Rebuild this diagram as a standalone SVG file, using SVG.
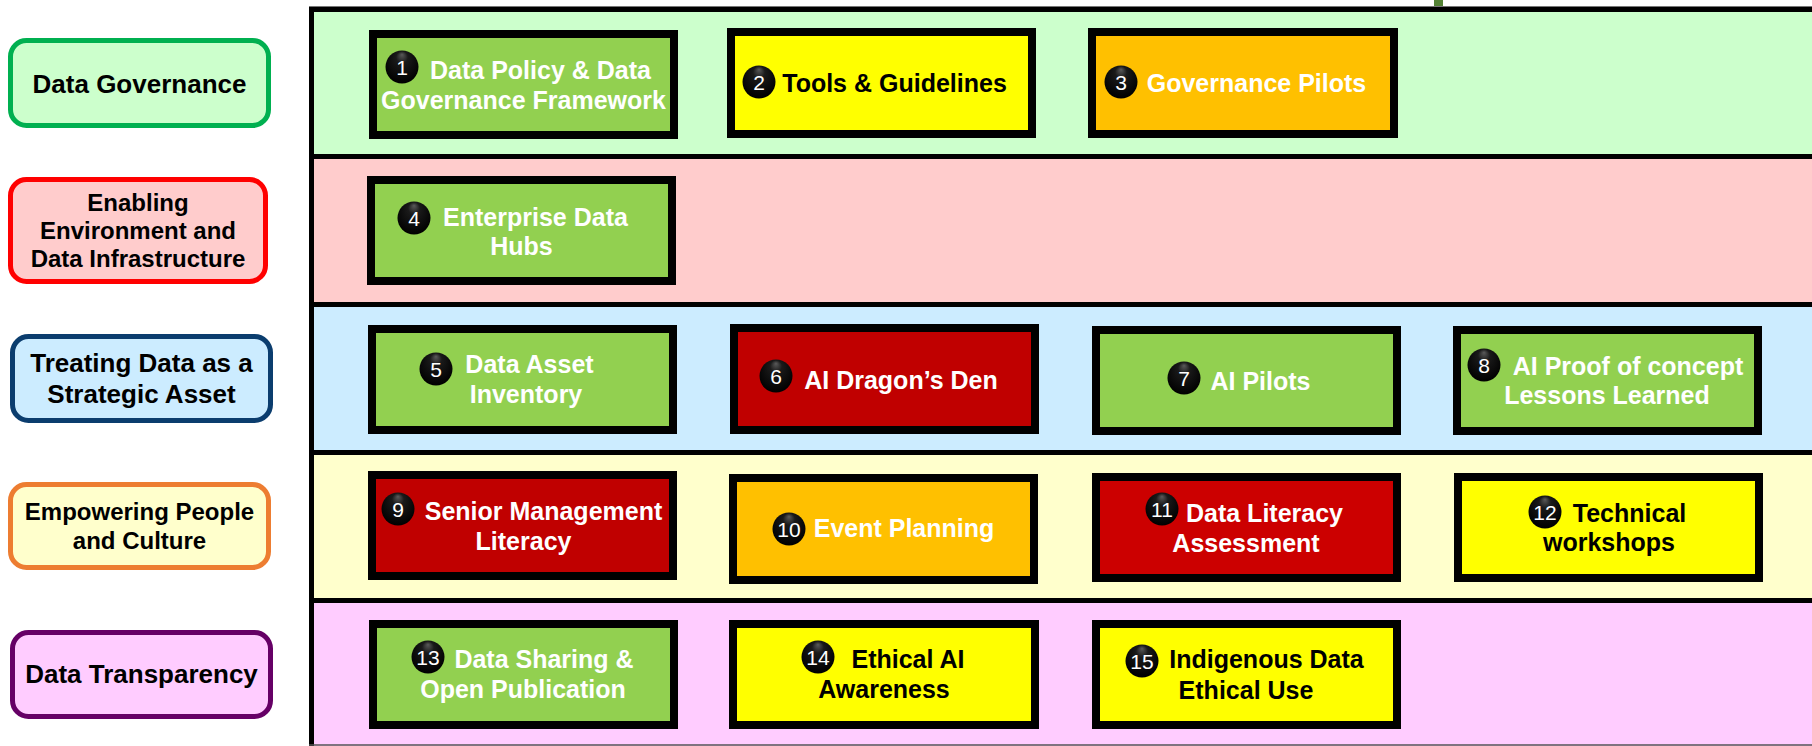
<svg xmlns="http://www.w3.org/2000/svg" width="1812" height="746" viewBox="0 0 1812 746">
<defs>
<radialGradient id="ball" cx="50%" cy="40%" r="60%" fx="50%" fy="12%">
<stop offset="0" stop-color="#5a5a5a"/>
<stop offset="0.3" stop-color="#1a1a1a"/>
<stop offset="1" stop-color="#000"/>
</radialGradient>
<style>
.lbl{stroke-width:5}
.lt{font-family:"Liberation Sans",Arial,sans-serif;font-weight:bold;fill:#000;text-anchor:middle}
.box{stroke:#000;stroke-width:8}
.nt{font-family:"Liberation Sans",Arial,sans-serif;font-weight:bold;font-size:25px;text-anchor:middle}
.w{fill:#fff}
.k{fill:#000}
.num{font-family:"Liberation Sans",Arial,sans-serif;font-size:21px;fill:#fff;text-anchor:middle}
.sep{stroke:#000;stroke-width:5}
</style>
</defs>
<rect width="1812" height="746" fill="#fff"/>
<rect x="1434" y="0" width="9" height="6" fill="#548235"/>
<g id="bands">
<rect x="312" y="9" width="1500" height="148" fill="#CCFFCC"/>
<rect x="312" y="157" width="1500" height="148" fill="#FFCCCC"/>
<rect x="312" y="305" width="1500" height="148" fill="#CCECFF"/>
<rect x="312" y="453" width="1500" height="148" fill="#FFFFCC"/>
<rect x="312" y="601" width="1500" height="145" fill="#FFCCFF"/>
<line x1="309" y1="6.5" x2="1812" y2="6.5" stroke="#777" stroke-width="1"/>
<line x1="309" y1="9.5" x2="1812" y2="9.5" class="sep"/>
<line x1="311.5" y1="7" x2="311.5" y2="746" class="sep"/>
<line x1="309" y1="156.5" x2="1812" y2="156.5" class="sep"/>
<line x1="309" y1="304.5" x2="1812" y2="304.5" class="sep"/>
<line x1="309" y1="452.5" x2="1812" y2="452.5" class="sep"/>
<line x1="309" y1="600.5" x2="1812" y2="600.5" class="sep"/>
<line x1="309" y1="745" x2="1812" y2="745" stroke="#555" stroke-width="1.5"/>
</g>
<g id="label-governance">
<rect class="lbl" x="10.5" y="40.5" width="258" height="85" rx="16" fill="#CCFFCC" stroke="#00B050"/>
<text class="lt" x="139.5" y="93" font-size="26">Data Governance</text>
</g>
<g id="label-enabling">
<rect class="lbl" x="10.5" y="179.5" width="255" height="102" rx="16" fill="#FFCCCC" stroke="#FF0000"/>
<text class="lt" x="138" y="211" font-size="24">Enabling</text>
<text class="lt" x="138" y="239" font-size="24">Environment and</text>
<text class="lt" x="138" y="267" font-size="24">Data Infrastructure</text>
</g>
<g id="label-strategic">
<rect class="lbl" x="12.5" y="336.5" width="258" height="84" rx="16" fill="#CCECFF" stroke="#0B3D6E"/>
<text class="lt" x="141.5" y="372" font-size="26">Treating Data as a</text>
<text class="lt" x="141.5" y="403" font-size="26">Strategic Asset</text>
</g>
<g id="label-people">
<rect class="lbl" x="10.5" y="484.5" width="258" height="83" rx="16" fill="#FFFFCC" stroke="#ED7D31"/>
<text class="lt" x="139.5" y="520" font-size="24">Empowering People</text>
<text class="lt" x="139.5" y="549" font-size="24">and Culture</text>
</g>
<g id="label-transparency">
<rect class="lbl" x="12.5" y="632.5" width="258" height="84" rx="16" fill="#FFCCFF" stroke="#660066"/>
<text class="lt" x="141.5" y="683" font-size="26">Data Transparency</text>
</g>
<g id="connectors"></g>
<g id="node1">
<rect class="box" x="373" y="34" width="301" height="101" fill="#92D050"/>
<text class="nt w" x="540.5" y="79">Data Policy &amp; Data</text>
<text class="nt w" x="523.5" y="109">Governance Framework</text>
<circle cx="402" cy="67" r="16.5" fill="url(#ball)"/>
<text class="num" x="402" y="74.5">1</text>
</g>
<g id="node2">
<rect class="box" x="731" y="32" width="301" height="102" fill="#FFFF00"/>
<text class="nt k" x="894.5" y="92">Tools &amp; Guidelines</text>
<circle cx="759" cy="82" r="16.5" fill="url(#ball)"/>
<text class="num" x="759" y="89.5">2</text>
</g>
<g id="node3">
<rect class="box" x="1092" y="32" width="302" height="102" fill="#FFC000"/>
<text class="nt w" x="1256.5" y="92">Governance Pilots</text>
<circle cx="1121" cy="82" r="16.5" fill="url(#ball)"/>
<text class="num" x="1121" y="89.5">3</text>
</g>
<g id="node4">
<rect class="box" x="371" y="180" width="301" height="101" fill="#92D050"/>
<text class="nt w" x="535.5" y="226">Enterprise Data</text>
<text class="nt w" x="521.5" y="255">Hubs</text>
<circle cx="414" cy="218" r="16.5" fill="url(#ball)"/>
<text class="num" x="414" y="225.5">4</text>
</g>
<g id="node5">
<rect class="box" x="372" y="329" width="301" height="101" fill="#92D050"/>
<text class="nt w" x="529.5" y="373">Data Asset</text>
<text class="nt w" x="526" y="403">Inventory</text>
<circle cx="436" cy="369" r="16.5" fill="url(#ball)"/>
<text class="num" x="436" y="376.5">5</text>
</g>
<g id="node6">
<rect class="box" x="734" y="328" width="301" height="102" fill="#C00000"/>
<text class="nt w" x="901" y="389">AI Dragon’s Den</text>
<circle cx="776" cy="376" r="16.5" fill="url(#ball)"/>
<text class="num" x="776" y="383.5">6</text>
</g>
<g id="node7">
<rect class="box" x="1096" y="330" width="301" height="101" fill="#92D050"/>
<text class="nt w" x="1260.5" y="390">AI Pilots</text>
<circle cx="1184" cy="378" r="16.5" fill="url(#ball)"/>
<text class="num" x="1184" y="385.5">7</text>
</g>
<g id="node8">
<rect class="box" x="1457" y="330" width="301" height="101" fill="#92D050"/>
<text class="nt w" x="1628" y="375">AI Proof of concept</text>
<text class="nt w" x="1607" y="404">Lessons Learned</text>
<circle cx="1484" cy="365" r="16.5" fill="url(#ball)"/>
<text class="num" x="1484" y="372.5">8</text>
</g>
<g id="node9">
<rect class="box" x="372" y="475" width="301" height="101" fill="#C00000"/>
<text class="nt w" x="543.5" y="520">Senior Management</text>
<text class="nt w" x="523.5" y="550">Literacy</text>
<circle cx="398" cy="509" r="16.5" fill="url(#ball)"/>
<text class="num" x="398" y="516.5">9</text>
</g>
<g id="node10">
<rect class="box" x="733" y="478" width="301" height="102" fill="#FFC000"/>
<text class="nt w" x="904" y="537">Event Planning</text>
<circle cx="789" cy="529" r="16.5" fill="url(#ball)"/>
<text class="num" x="789" y="536.5">10</text>
</g>
<g id="node11">
<rect class="box" x="1096" y="477" width="301" height="101" fill="#CC0000"/>
<text class="nt w" x="1264.5" y="522">Data Literacy</text>
<text class="nt w" x="1246" y="552">Assessment</text>
<circle cx="1162" cy="509" r="16.5" fill="url(#ball)"/>
<text class="num" x="1162" y="516.5">11</text>
</g>
<g id="node12">
<rect class="box" x="1458" y="477" width="301" height="101" fill="#FFFF00"/>
<text class="nt k" x="1629.5" y="522">Technical</text>
<text class="nt k" x="1609" y="551">workshops</text>
<circle cx="1545" cy="512" r="16.5" fill="url(#ball)"/>
<text class="num" x="1545" y="519.5">12</text>
</g>
<g id="node13">
<rect class="box" x="373" y="624" width="301" height="101" fill="#92D050"/>
<text class="nt w" x="544" y="668">Data Sharing &amp;</text>
<text class="nt w" x="523" y="698">Open Publication</text>
<circle cx="428" cy="657" r="16.5" fill="url(#ball)"/>
<text class="num" x="428" y="664.5">13</text>
</g>
<g id="node14">
<rect class="box" x="733" y="624" width="302" height="101" fill="#FFFF00"/>
<text class="nt k" x="908" y="668">Ethical AI</text>
<text class="nt k" x="884" y="698">Awareness</text>
<circle cx="818" cy="657" r="16.5" fill="url(#ball)"/>
<text class="num" x="818" y="664.5">14</text>
</g>
<g id="node15">
<rect class="box" x="1096" y="624" width="301" height="101" fill="#FFFF00"/>
<text class="nt k" x="1266.5" y="668">Indigenous Data</text>
<text class="nt k" x="1246" y="699">Ethical Use</text>
<circle cx="1142" cy="661" r="16.5" fill="url(#ball)"/>
<text class="num" x="1142" y="668.5">15</text>
</g>
</svg>
